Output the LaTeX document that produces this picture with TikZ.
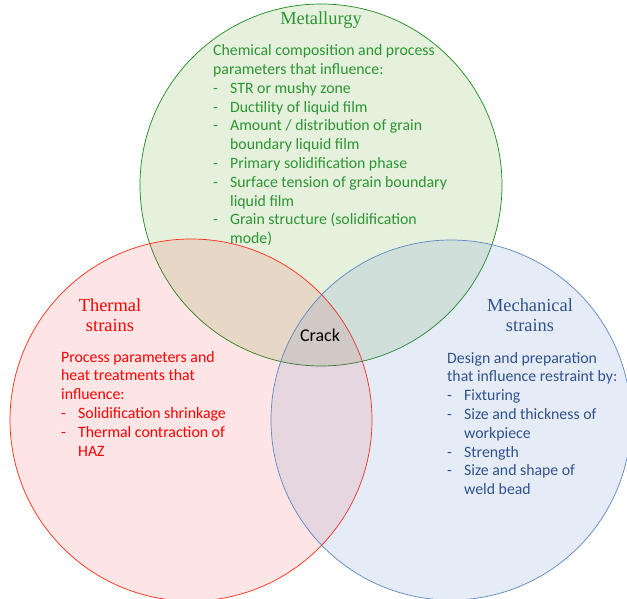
\documentclass[tikz,border=0pt]{standalone}
\usepackage{fontspec}
\setmainfont{Carlito}
\newfontfamily\serifttl{Liberation Serif}
\usetikzlibrary{positioning}
\definecolor{metc}{HTML}{2C9632}
\definecolor{metline}{HTML}{1E8A1E}
\definecolor{metfill}{HTML}{70AD47}
\definecolor{thermc}{HTML}{FF0000}
\definecolor{thermline}{HTML}{FF2A14}
\definecolor{mechc}{HTML}{2F528F}
\definecolor{mechline}{HTML}{5B87C5}
\definecolor{mechfill}{HTML}{4472C4}
\newcommand{\dsh}{\makebox[17pt][l]{-}}
\newcommand{\ind}{\hspace*{17pt}}
\tikzset{
  ring/.style ={circle,minimum size=362pt,inner sep=0pt,line width=.7pt},
  ttl/.style  ={font=\serifttl\fontsize{18.4}{20.5}\selectfont,align=center,inner sep=0pt},
  body/.style ={font=\fontsize{15.8}{18.8}\selectfont,align=left,inner sep=0pt,anchor=north west},
}

\begin{document}
\begin{tikzpicture}[x=1pt,y=-1pt]
\fill[white] (0,0) rectangle (627,599);
\clip (0,0) rectangle (627,599);

% ---- the three circles ---------------------------------------------------
\node[ring,draw=metline,fill=metfill,fill opacity=.18] (met) at (321,185) {};
\node[ring,draw=thermline,fill=thermc,fill opacity=.1] (therm) at (191,420) {};
\node[ring,minimum size=360pt,draw=mechline,fill=mechfill,fill opacity=.13] (mech) at (451,420) {};

% ---- metallurgy ----------------------------------------------------------
\node[ttl,text=metc] (metttl) at (321,20) {Metallurgy};
\node[body,text=metc] (metbody) at (213,44.5)
  {Chemical composition and process\\
   parameters that influence:\\
   \dsh STR or mushy zone\\
   \dsh Ductility of liquid film\\
   \dsh Amount / distribution of grain\\
   \ind boundary liquid film\\
   \dsh Primary solidification phase\\
   \dsh Surface tension of grain boundary\\
   \ind liquid film\\
   \dsh Grain structure (solidification\\
   \ind mode)};

% ---- thermal strains -----------------------------------------------------
\node[ttl,text=thermc] (thermttl) at (110,315) {Thermal\\strains};
\node[body,text=thermc] (thermbody) at (61,351)
  {Process parameters and\\
   heat treatments that\\
   influence:\\
   \dsh Solidification shrinkage\\
   \dsh Thermal contraction of\\
   \ind HAZ};

% ---- mechanical strains --------------------------------------------------
\node[ttl,text=mechc] (mechttl) at (530,315) {Mechanical\\strains};
\node[body,text=mechc] (mechbody) at (447,352)
  {Design and preparation\\
   that influence restraint by:\\
   \dsh Fixturing\\
   \dsh Size and thickness of\\
   \ind workpiece\\
   \dsh Strength\\
   \dsh Size and shape of\\
   \ind weld bead};

% ---- centre --------------------------------------------------------------
\node[font=\fontsize{18}{20}\selectfont,inner sep=0pt] (crack) at (320,335) {Crack};
\end{tikzpicture}
\end{document}
